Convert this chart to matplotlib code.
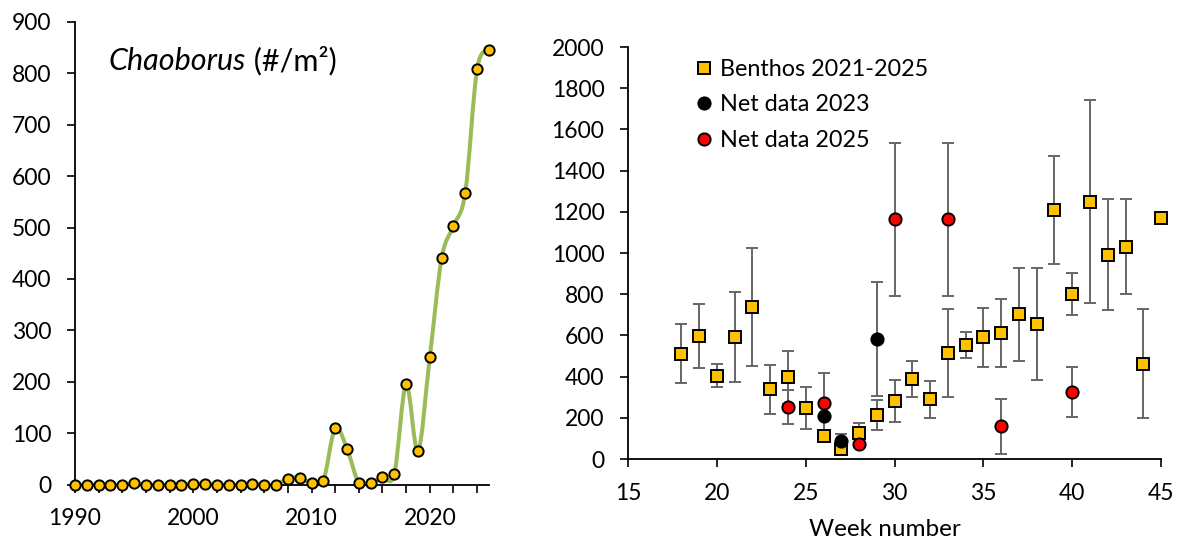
import matplotlib.pyplot as plt
import numpy as np
from matplotlib.path import Path
from matplotlib.patches import PathPatch

plt.rcParams['font.family'] = ['Lato', 'DejaVu Sans']

# Left panel: yearly Chaoborus density
years = np.arange(1990, 2026)
chaoborus = [0, 0, 0, 0, 0, 3, 0, 0, 0, 0,
             2, 2, 0, 0, 0, 2, 0, 0, 12, 14,
             3, 8, 110, 70, 3, 3, 15, 21, 195, 65,
             248, 440, 503, 568, 808, 845]

# Right panel: weekly data
weeks_benthos = np.arange(18, 46)
benthos = [512, 596, 405, 593, 738, 338, 397, 248, 112, 50,
           126, 215, 282, 390, 290, 515, 553, 592, 612, 702,
           655, 1211, 800, 1249, 992, 1031, 463, 1172]
benthos_err = [142, 155, 57, 220, 287, 119, 129, 100, 0, 0,
               49, 73, 102, 87, 89, 213, 65, 143, 163, 226,
               271, 262, 103, 493, 271, 230, 264, 0]

weeks_2023 = [26, 27, 29]
net_2023 = [209, 87, 583]
net_2023_err = [0, 36, 277]

weeks_2025 = [24, 26, 28, 30, 33, 36, 40]
net_2025 = [252, 274, 75, 1163, 1163, 159, 325]
net_2025_err = [83, 143, 0, 372, 373, 133, 123]

GOLD = '#FFC000'
GREEN = '#9BBB59'
ERRC = '#666666'


def smooth_path(x, y):
    # Excel-like smoothed line: Catmull-Rom segments as cubic Beziers
    pts = np.column_stack([x, y]).astype(float)
    n = len(pts)
    verts = [pts[0]]
    codes = [Path.MOVETO]
    for i in range(n - 1):
        p_prev = pts[max(i - 1, 0)]
        p_next = pts[min(i + 2, n - 1)]
        c1 = pts[i] + (pts[i + 1] - p_prev) / 6
        c2 = pts[i + 1] - (p_next - pts[i]) / 6
        verts += [c1, c2, pts[i + 1]]
        codes += [Path.CURVE4] * 3
    return Path(verts, codes)


def style_axes(ax):
    ax.spines['top'].set_visible(False)
    ax.spines['right'].set_visible(False)
    for s in ['left', 'bottom']:
        ax.spines[s].set_linewidth(1.3)
    ax.tick_params(direction='out', length=6, width=1.2,
                   labelsize=16.5, pad=11, colors='black')


fig = plt.figure(figsize=(11.77, 5.44), dpi=100)

# ---- left panel
ax1 = fig.add_axes([0.0637, 0.109, 0.3517, 0.851])
ax1.add_patch(PathPatch(smooth_path(years, chaoborus), facecolor='none',
                        edgecolor=GREEN, lw=2.9, zorder=2))
ax1.plot(years, chaoborus, ls='none', marker='o', ms=7.4, mfc=GOLD,
         mec='black', mew=1.4, zorder=3, clip_on=False)
ax1.set_xlim(1990, 2025)
ax1.set_ylim(0, 900)
ax1.set_xticks(np.arange(1990, 2026, 2))
ax1.set_xticklabels([str(y) if y % 10 == 0 else '' for y in range(1990, 2026, 2)])
ax1.set_yticks(np.arange(0, 901, 100))
style_axes(ax1)
t = ax1.text(0.082, 0.895, 'Chaoborus', style='italic', fontsize=22,
             transform=ax1.transAxes, va='baseline')
ax1.annotate(' (#/m\u00b2)', xy=(1, 0), xycoords=t, va='bottom', fontsize=22)

# ---- right panel
ax2 = fig.add_axes([0.5336, 0.1562, 0.4529, 0.7574])
ebk = dict(fmt='none', ecolor=ERRC, elinewidth=1.4, capsize=4.4,
           capthick=1.4, zorder=2)
ax2.errorbar(weeks_benthos, benthos, yerr=benthos_err, **ebk)
ax2.errorbar(weeks_2023, net_2023, yerr=net_2023_err, **ebk)
ax2.errorbar(weeks_2025, net_2025, yerr=net_2025_err, **ebk)
ax2.plot(weeks_benthos, benthos, ls='none', marker='s', ms=8.9, mfc=GOLD,
         mec='black', mew=1.4, zorder=3, clip_on=False,
         label='Benthos 2021-2025')
ax2.plot(weeks_2023, net_2023, ls='none', marker='o', ms=8.8, mfc='black',
         mec='black', mew=1.4, zorder=5, clip_on=False,
         label='Net data 2023')
ax2.plot(weeks_2025, net_2025, ls='none', marker='o', ms=8.8, mfc='#FF0000',
         mec='black', mew=1.4, zorder=4, clip_on=False,
         label='Net data 2025')
ax2.set_xlim(15, 45)
ax2.set_ylim(0, 2000)
ax2.set_xticks(np.arange(15, 46, 5))
ax2.set_yticks(np.arange(0, 2001, 200))
style_axes(ax2)
ax2.set_xlabel('Week number', fontsize=17.5, va='center')
ax2.xaxis.set_label_coords(0.482, -0.172)
ax2.legend(loc='upper left', bbox_to_anchor=(0.09, 1.005), frameon=False,
           fontsize=16.8, handletextpad=0.1, handlelength=1.2,
           labelspacing=0.62, borderaxespad=0.2)

fig.savefig('out.png', dpi=100)
